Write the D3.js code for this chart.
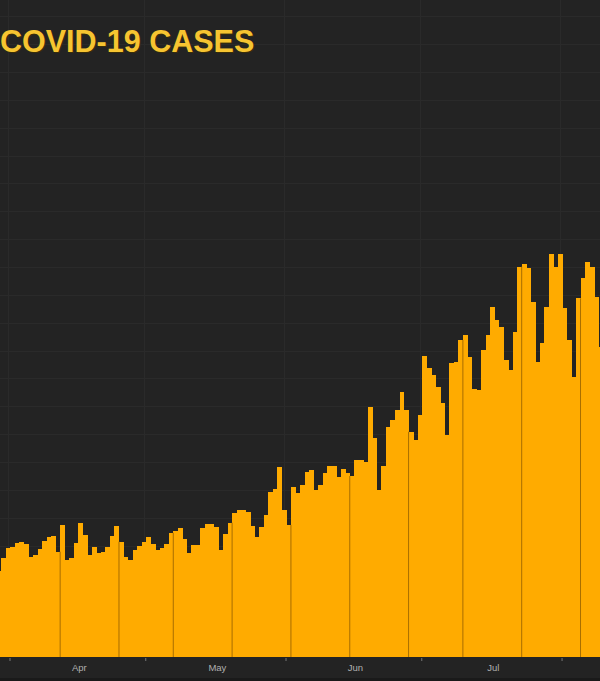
<!DOCTYPE html>
<html><head><meta charset="utf-8">
<script src="https://cdn.jsdelivr.net/npm/d3@7"></script>
<style>
html,body{margin:0;padding:0;background:#222222;overflow:hidden;}
svg{display:block;}
</style></head><body>
<svg id="chart" width="600" height="681"></svg>
<script>
// ---- data ----
const title = "COVID-19 CASES";
const firstDay = "2020-03-30";
// daily new cases, one value per day starting at firstDay
const dailyCases = [
  61700, 71100, 78300, 79000, 81800, 82800, 81100, 71800, 73200, 77200,
  83600, 86100, 86900, 75600, 94800, 69600, 71100, 81800, 96400, 87600,
  73200, 79300, 74700, 75600, 79200, 87200, 93700, 82800, 71800, 69600,
  76500, 79700, 82800, 86100, 81100, 76800, 77900, 81100, 89200, 90200,
  92400, 84700, 74900, 80400, 80400, 92600, 95500, 95500, 93500, 76800,
  88300, 96400, 103400, 105500, 105500, 104300, 94000, 86500, 93100, 101900,
  118700, 120600, 136600, 105500, 94800, 121800, 118000, 123500, 133000, 134200,
  119900, 123500, 132100, 137100, 137100, 129400, 135000, 132100, 129900, 141400,
  141400, 140200, 179700, 157000, 119900, 137100, 164900, 170100, 177300, 190500,
  177300, 161700, 155800, 173700, 216100, 207300, 202400, 194100, 182100, 159400,
  210800, 212000, 227600, 231200, 215600, 192400, 191700, 220400, 231200, 251500,
  241900, 237100, 213200, 206000, 233100, 280200, 281900, 279000, 255100, 212000,
  225200, 251500, 289100, 280200, 289100, 250300, 227600, 201200, 257500, 271900,
  283800, 280200, 258700, 222800
];
const monthStarts = ["2020-04-01", "2020-05-01", "2020-06-01", "2020-07-01", "2020-08-01"];
const monthLabels = ["Apr", "May", "Jun", "Jul"];
const separatorDates = ["2020-04-13", "2020-04-26", "2020-05-08", "2020-05-21", "2020-06-03",
  "2020-06-16", "2020-06-29", "2020-07-11", "2020-07-24", "2020-08-06"];
const yMax = 460000;
const yStep = 20000;

// ---- layout ----
const W = 600, H = 681;
const baseY = 657;
const parse = d3.utcParse("%Y-%m-%d");
const start = parse(firstDay);
const data = dailyCases.map((v, i) => ({ date: d3.utcDay.offset(start, i), value: v }));

const x = d3.scaleUtc()
  .domain([parse("2020-04-01"), parse("2020-08-01")])
  .range([10, 10 + 122 * 4.525]);
const y = d3.scaleLinear().domain([0, yMax]).range([baseY, baseY - 23 * 27.86]);

const svg = d3.select("#chart");
svg.append("rect").attr("width", W).attr("height", H).attr("fill", "#232323");

// grid
const grid = svg.append("g");
grid.selectAll("line.h").data(d3.range(yStep, yMax + 1, yStep)).join("line")
  .attr("x1", 0).attr("x2", W)
  .attr("y1", d => Math.round(y(d)) + 0.5).attr("y2", d => Math.round(y(d)) + 0.5)
  .attr("stroke", "#2a2a2a").attr("stroke-width", 1);
grid.selectAll("line.v").data(monthStarts.map(parse)).join("line")
  .attr("x1", d => Math.round(x(d)) - 1.5).attr("x2", d => Math.round(x(d)) - 1.5)
  .attr("y1", 0).attr("y2", baseY)
  .attr("stroke", "#2a2a2a").attr("stroke-width", 1);

// bars (each bar drawn ending shortly after its date tick)
const barStart = d => d3.utcHour.offset(d, -22);
svg.append("g").selectAll("rect").data(data).join("rect")
  .attr("x", d => x(barStart(d.date)))
  .attr("width", d => x(d3.utcDay.offset(barStart(d.date), 1)) - x(barStart(d.date)) + 0.4)
  .attr("y", d => y(d.value))
  .attr("height", d => baseY - y(d.value))
  .attr("fill", "#ffab00")
  .attr("shape-rendering", "crispEdges");

// separator lines
svg.append("g").selectAll("line").data(separatorDates.map(parse)).join("line")
  .attr("x1", d => x(barStart(d))).attr("x2", d => x(barStart(d)))
  .attr("y1", d => {
    const rec = data.find(e => +e.date === +d);
    const prev = data.find(e => +e.date === +d3.utcDay.offset(d, -1));
    return y(Math.min(rec ? rec.value : 0, prev ? prev.value : 0));
  })
  .attr("y2", baseY)
  .attr("stroke", "#a86e00").attr("stroke-width", 1);

// bottom axis band
svg.append("rect").attr("x", 0).attr("y", baseY).attr("width", W).attr("height", H - baseY)
  .attr("fill", "#232323");
svg.append("rect").attr("x", 0).attr("y", 678).attr("width", W).attr("height", 3)
  .attr("fill", "#1a1a1a");
svg.append("g").selectAll("line").data(monthStarts.map(parse)).join("line")
  .attr("x1", d => x(d)).attr("x2", d => x(d))
  .attr("y1", baseY + 1).attr("y2", baseY + 4)
  .attr("stroke", "#777").attr("stroke-width", 1);
const mids = monthLabels.map((m, i) => {
  const a = parse(monthStarts[i]), b = parse(monthStarts[i + 1]);
  return { label: m, x: (x(a) + x(b)) / 2 + 1.5 };
});
svg.append("g").selectAll("text").data(mids).join("text")
  .attr("x", d => d.x).attr("y", 671)
  .attr("text-anchor", "middle")
  .attr("font-family", "Liberation Sans, Arial, sans-serif")
  .attr("font-size", 9.5)
  .attr("fill", "#b0b0b0")
  .text(d => d.label);

// title
svg.append("text").attr("x", 1).attr("y", 52.5)
  .attr("font-family", "Liberation Sans, Arial, sans-serif")
  .attr("font-weight", "bold").attr("font-size", 30.5)
  .attr("fill", "#3a2e08")
  .text(title);
svg.append("text").attr("x", 0).attr("y", 51.5)
  .attr("font-family", "Liberation Sans, Arial, sans-serif")
  .attr("font-weight", "bold").attr("font-size", 30.5)
  .attr("fill", "#f6c431")
  .text(title);
</script>
</body></html>
